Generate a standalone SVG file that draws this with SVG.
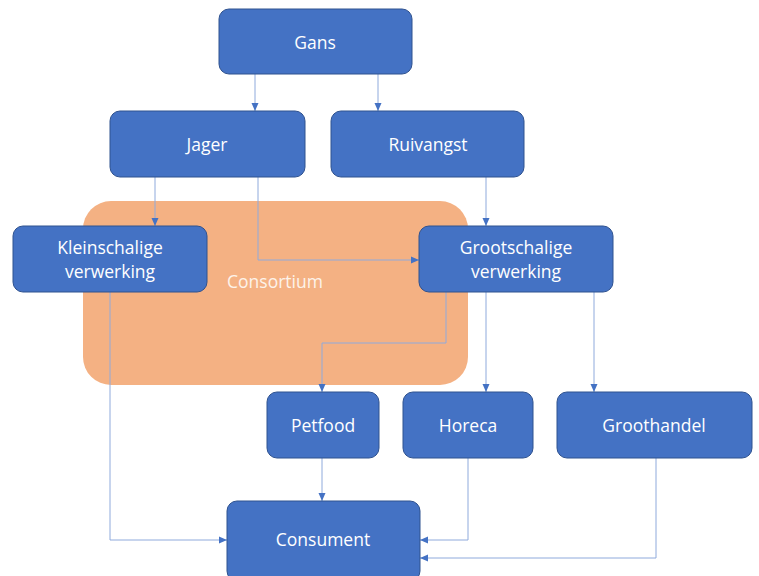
<svg xmlns="http://www.w3.org/2000/svg" width="759" height="576" viewBox="0 0 759 576">
<defs>
<style>
.n{fill:#4472c4;stroke:#2f528f;stroke-width:1}
.t{fill:#ffffff;font-family:"Open Sans","Liberation Sans",sans-serif;font-size:17.5px;text-anchor:middle;dominant-baseline:central}
.c{fill:none;stroke:#8faadc;stroke-width:1}
</style>
<marker id="a" viewBox="0 0 8 8" refX="8" refY="4" markerWidth="8" markerHeight="8" orient="auto" markerUnits="userSpaceOnUse">
<path d="M0,0.5 L8,4 L0,7.5 z" fill="#4472c4"/>
</marker>
</defs>
<rect width="759" height="576" fill="#ffffff"/>
<g id="consortium">
<rect x="83" y="201" width="385" height="184" rx="28" fill="#f4b183"/>
<text x="275" y="281" class="t" style="fill:#fdf3ea">Consortium</text>
</g>
<g id="connectors">
<path class="c" d="M255,74 V111" marker-end="url(#a)"/>
<path class="c" d="M378,74 V111" marker-end="url(#a)"/>
<path class="c" d="M155,177 V226" marker-end="url(#a)"/>
<path class="c" d="M258,177 V260 H419" marker-end="url(#a)"/>
<path class="c" d="M486,177 V226" marker-end="url(#a)"/>
<path class="c" d="M446,292 V343 H322 V392" marker-end="url(#a)"/>
<path class="c" d="M486,292 V392" marker-end="url(#a)"/>
<path class="c" d="M594,292 V392" marker-end="url(#a)"/>
<path class="c" d="M110,292 V540 H227" marker-end="url(#a)"/>
<path class="c" d="M322,458 V501" marker-end="url(#a)"/>
<path class="c" d="M468,458 V540 H420" marker-end="url(#a)"/>
<path class="c" d="M656,458 V558 H420" marker-end="url(#a)"/>
</g>
<g id="gans"><rect class="n" x="219" y="9" width="193" height="65" rx="10"/><text class="t" x="315" y="42">Gans</text></g>
<g id="jager"><rect class="n" x="110" y="111" width="195" height="66" rx="10"/><text class="t" x="207" y="144">Jager</text></g>
<g id="ruivangst"><rect class="n" x="331" y="111" width="193" height="66" rx="10"/><text class="t" x="428" y="144">Ruivangst</text></g>
<g id="kleinschalige"><rect class="n" x="13" y="226" width="194" height="66" rx="10"/><text class="t" x="110" y="247">Kleinschalige</text><text class="t" x="110" y="271">verwerking</text></g>
<g id="grootschalige"><rect class="n" x="419" y="226" width="194" height="66" rx="10"/><text class="t" x="516" y="247">Grootschalige</text><text class="t" x="516" y="271">verwerking</text></g>
<g id="petfood"><rect class="n" x="267" y="392" width="112" height="66" rx="10"/><text class="t" x="323" y="425">Petfood</text></g>
<g id="horeca"><rect class="n" x="403" y="392" width="130" height="66" rx="10"/><text class="t" x="468" y="425">Horeca</text></g>
<g id="groothandel"><rect class="n" x="557" y="392" width="195" height="66" rx="10"/><text class="t" x="654" y="425">Groothandel</text></g>
<g id="consument"><rect class="n" x="227" y="501" width="193" height="80" rx="10"/><text class="t" x="323" y="539">Consument</text></g>
</svg>
